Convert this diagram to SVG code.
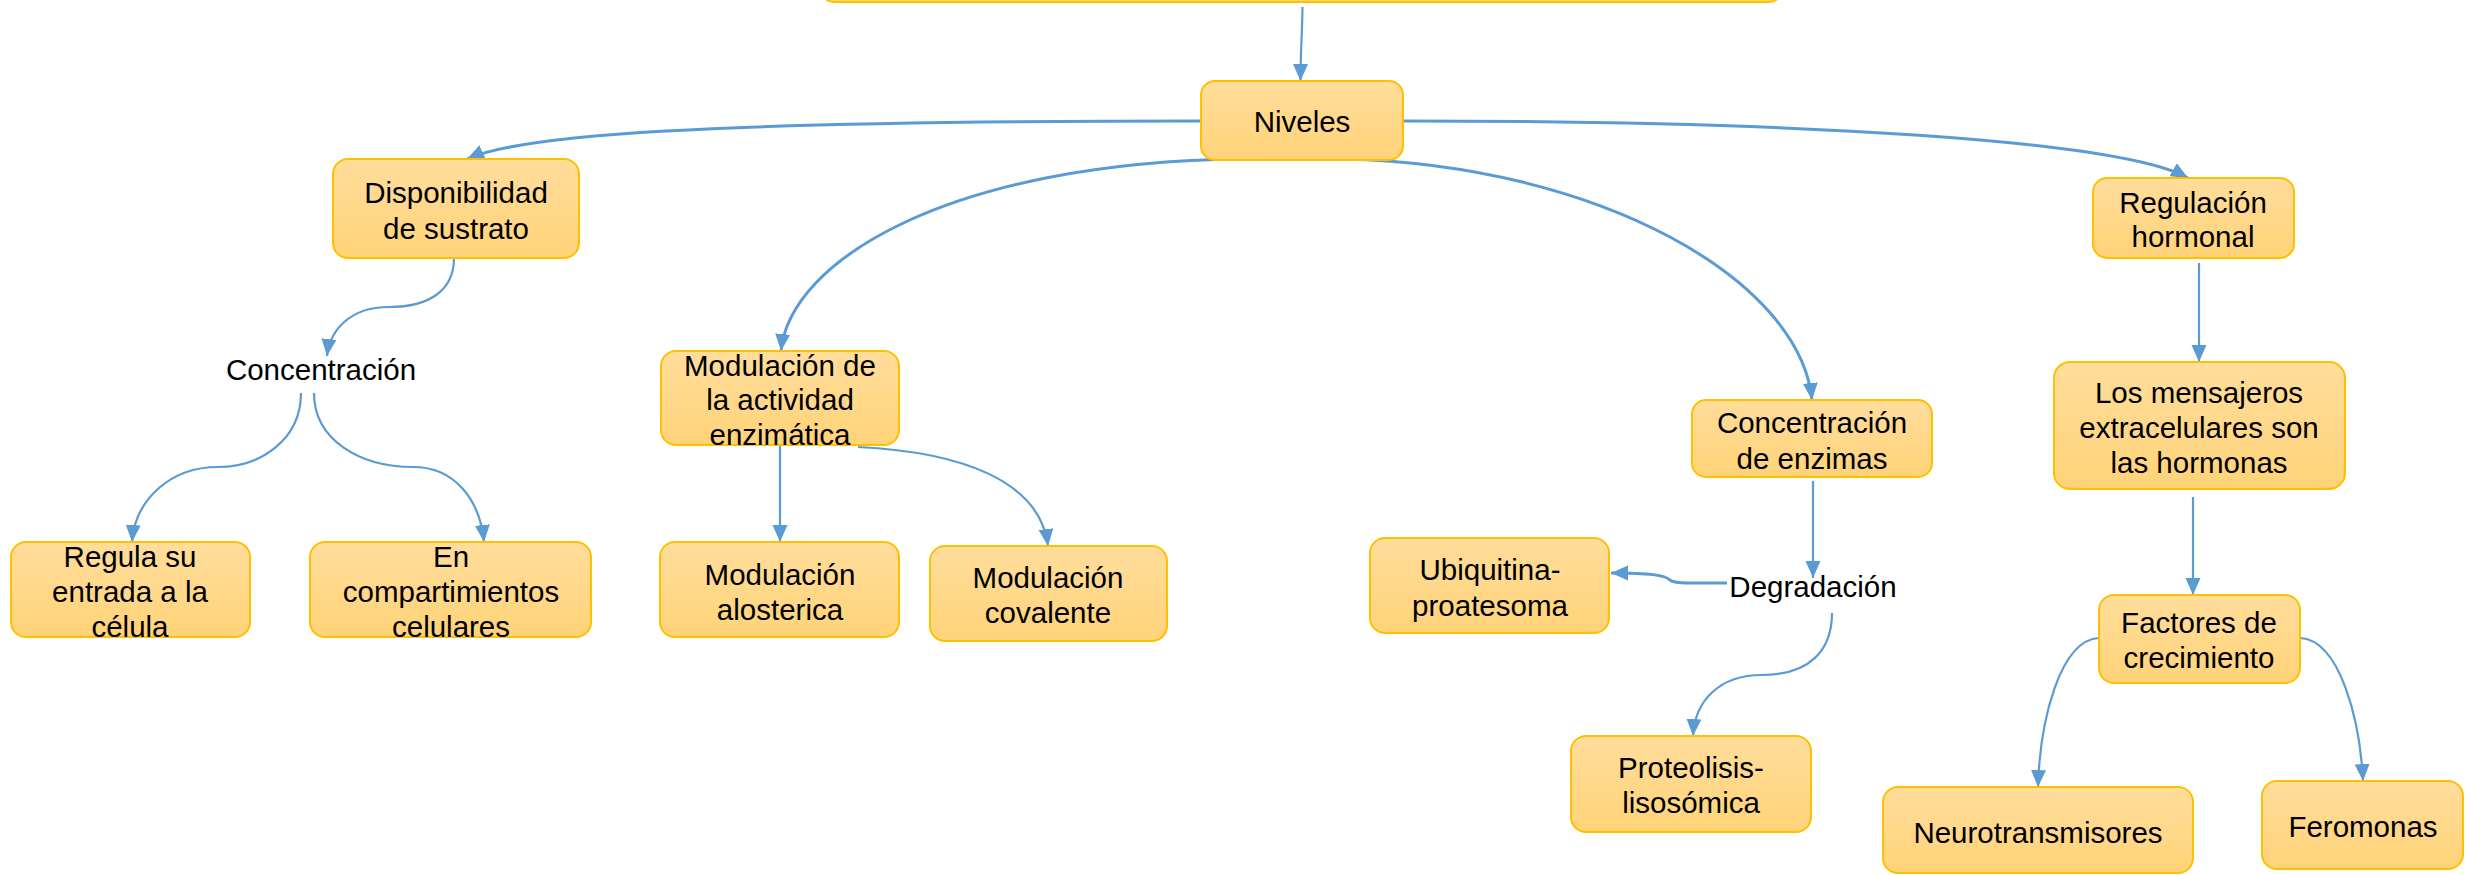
<svg xmlns="http://www.w3.org/2000/svg" width="2478" height="875" viewBox="0 0 2478 875">
<defs>
<linearGradient id="g" x1="0" y1="0" x2="0" y2="1">
<stop offset="0" stop-color="#FFDD9C"/>
<stop offset="1" stop-color="#FFD378"/>
</linearGradient>
<marker id="ah" markerUnits="userSpaceOnUse" markerWidth="18" markerHeight="16" refX="17" refY="7.5" orient="auto">
<path d="M0,0 L17,7.5 L0,15 z" fill="#5B9BD5"/>
</marker>
<style>
.box{fill:url(#g);stroke:#FFC000;stroke-width:2}
.t{font-family:"Liberation Sans",Arial,sans-serif;font-size:29.5px;fill:#000;text-anchor:middle}
.c{fill:none;stroke:#5B9BD5;stroke-width:2.2;marker-end:url(#ah)}
.k{stroke-width:3}
</style>
</defs>
<rect width="2478" height="875" fill="#fff"/>
<g id="connectors">
<path class="c" d="M1302.5,7 C1302,40 1300.5,50 1300.5,81"/>
<path class="c k" d="M1201,121 C700,121 520,135 467,159"/>
<path class="c k" d="M1403,121 C1800,121 2120,140 2188,178"/>
<path class="c k" d="M1243,159 C950,162 790,260 781,351"/>
<path class="c k" d="M1344,159 C1600,165 1800,280 1812,400"/>
<path class="c" d="M454,258 C454,290 430,307 389,307 C350,307 330,330 327,356"/>
<path class="c" d="M301,393 C301,440 260,467 218,467 C170,467 135,500 132,542"/>
<path class="c" d="M314,393 C314,440 360,467 413,467 C455,467 480,500 484,542"/>
<path class="c" d="M780,445 L780,542"/>
<path class="c" d="M858,447 C960,452 1040,480 1048,546"/>
<path class="c" d="M2199,263 L2199,362"/>
<path class="c" d="M2193,497 L2193,595"/>
<path class="c" d="M2099,638 C2060,640 2040,720 2038,787"/>
<path class="c" d="M2300,638 C2340,640 2360,720 2363,781"/>
<path class="c" d="M1813,481 L1813,578"/>
<path class="c k" d="M1727,583 C1690,583 1675,584 1670,580 C1665,575 1650,573 1611,573"/>
<path class="c" d="M1832,613 C1832,650 1810,675 1762,675 C1720,675 1695,700 1693,736"/>
</g>
<g id="top"><rect class="box" x="820" y="-60" width="963" height="62" rx="14" stroke-width="3"/></g>
<g id="niveles"><rect class="box" x="1201" y="81" width="202" height="79" rx="14"/><text class="t" x="1302" y="132">Niveles</text></g>
<g id="disponibilidad"><rect class="box" x="333" y="159" width="246" height="99" rx="15"/><text class="t" x="456" y="203">Disponibilidad</text><text class="t" x="456" y="239">de sustrato</text></g>
<g id="concentracion"><text class="t" x="321" y="380">Concentración</text></g>
<g id="regula"><rect class="box" x="11" y="542" width="239" height="95" rx="15"/><text class="t" x="130" y="567">Regula su</text><text class="t" x="130" y="602">entrada a la</text><text class="t" x="130" y="637">célula</text></g>
<g id="compartimientos"><rect class="box" x="310" y="542" width="281" height="95" rx="15"/><text class="t" x="451" y="567">En</text><text class="t" x="451" y="602">compartimientos</text><text class="t" x="451" y="637">celulares</text></g>
<g id="modulacion"><rect class="box" x="661" y="351" width="238" height="94" rx="15"/><text class="t" x="780" y="376">Modulación de</text><text class="t" x="780" y="410">la actividad</text><text class="t" x="780" y="445">enzimática</text></g>
<g id="alosterica"><rect class="box" x="660" y="542" width="239" height="95" rx="15"/><text class="t" x="780" y="585">Modulación</text><text class="t" x="780" y="620">alosterica</text></g>
<g id="covalente"><rect class="box" x="930" y="546" width="237" height="95" rx="15"/><text class="t" x="1048" y="588">Modulación</text><text class="t" x="1048" y="623">covalente</text></g>
<g id="conc-enzimas"><rect class="box" x="1692" y="400" width="240" height="77" rx="14"/><text class="t" x="1812" y="433">Concentración</text><text class="t" x="1812" y="469">de enzimas</text></g>
<g id="degradacion"><text class="t" x="1813" y="597">Degradación</text></g>
<g id="ubiquitina"><rect class="box" x="1370" y="538" width="239" height="95" rx="15"/><text class="t" x="1490" y="580">Ubiquitina-</text><text class="t" x="1490" y="616">proatesoma</text></g>
<g id="proteolisis"><rect class="box" x="1571" y="736" width="240" height="96" rx="15"/><text class="t" x="1691" y="778">Proteolisis-</text><text class="t" x="1691" y="813">lisosómica</text></g>
<g id="regulacion"><rect class="box" x="2093" y="178" width="201" height="80" rx="14"/><text class="t" x="2193" y="213">Regulación</text><text class="t" x="2193" y="247">hormonal</text></g>
<g id="mensajeros"><rect class="box" x="2054" y="362" width="291" height="127" rx="16"/><text class="t" x="2199" y="403">Los mensajeros</text><text class="t" x="2199" y="438">extracelulares son</text><text class="t" x="2199" y="473">las hormonas</text></g>
<g id="factores"><rect class="box" x="2099" y="595" width="201" height="88" rx="15"/><text class="t" x="2199" y="633">Factores de</text><text class="t" x="2199" y="668">crecimiento</text></g>
<g id="neuro"><rect class="box" x="1883" y="787" width="310" height="86" rx="15"/><text class="t" x="2038" y="843">Neurotransmisores</text></g>
<g id="feromonas"><rect class="box" x="2262" y="781" width="201" height="88" rx="15"/><text class="t" x="2363" y="837">Feromonas</text></g>
</svg>
